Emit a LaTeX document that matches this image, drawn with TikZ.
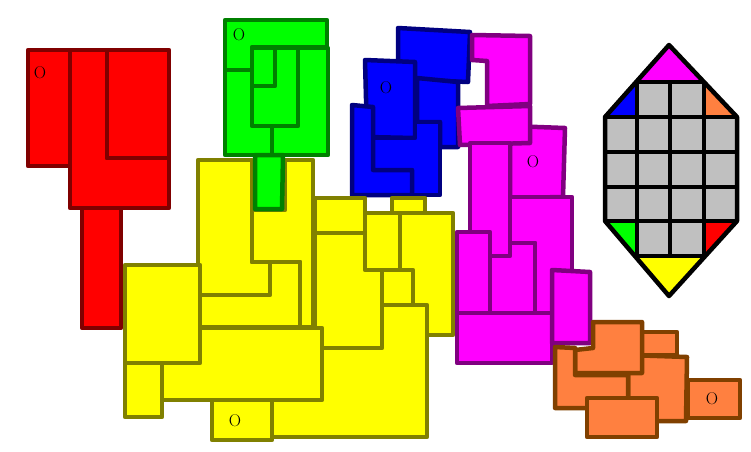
\documentclass[tikz,border=0pt]{standalone}
\usepackage{tikz}
\usetikzlibrary{positioning}
\definecolor{edgered}{RGB}{128,0,0}
\definecolor{edgegreen}{RGB}{0,128,0}
\definecolor{edgeblue}{RGB}{0,0,128}
\definecolor{edgemagenta}{RGB}{128,0,128}
\definecolor{edgeyellow}{RGB}{128,128,0}
\definecolor{edgeorange}{RGB}{128,64,0}
\definecolor{fillred}{RGB}{255,0,0}
\definecolor{fillgreen}{RGB}{0,255,0}
\definecolor{fillblue}{RGB}{0,0,255}
\definecolor{fillmagenta}{RGB}{255,0,255}
\definecolor{fillyellow}{RGB}{255,255,0}
\definecolor{fillorange}{RGB}{255,128,64}
\definecolor{fillgray}{RGB}{192,192,192}
\begin{document}
\begin{tikzpicture}[x=1pt, y=-1pt, line join=round]
    % Define styles
    \tikzstyle{redpiece} = [draw=edgered, fill=fillred, line width=4.5pt]
    \tikzstyle{greenpiece} = [draw=edgegreen, fill=fillgreen, line width=4.5pt]
    \tikzstyle{bluepiece} = [draw=edgeblue, fill=fillblue, line width=4.5pt]
    \tikzstyle{magentapiece} = [draw=edgemagenta, fill=fillmagenta, line width=4.5pt]
    \tikzstyle{yellowpiece} = [draw=edgeyellow, fill=fillyellow, line width=4.5pt]
    \tikzstyle{orangepiece} = [draw=edgeorange, fill=fillorange, line width=4.5pt]
    \tikzstyle{gridline} = [draw=black, line width=4.5pt]
    \tikzstyle{piecelabel} = [font=\fontsize{17}{17}\selectfont, inner sep=0pt]

    \useasboundingbox (0,0) rectangle (751,451);

    % Red pieces
    \draw[redpiece] (28,50) rectangle (70,166);
    \draw[redpiece] (70,50) -- (107,50) -- (107,158) -- (169,158) -- (169,208) -- (70,208) -- cycle;
    \draw[redpiece] (107,50) rectangle (169,158);
    \draw[redpiece] (82,208) rectangle (121,328);
    \node[piecelabel] (redo) at (40,73) {O};

    % Green pieces
    \draw[greenpiece] (225,20) -- (327,20) -- (327,47) -- (252,47) -- (252,70) -- (225,70) -- cycle;
    \draw[greenpiece] (225,70) -- (252,70) -- (252,125) -- (272,125) -- (272,155) -- (225,155) -- cycle;
    \draw[greenpiece] (252,48) rectangle (275,86);
    \draw[greenpiece] (275,48) -- (298,48) -- (298,126) -- (252,126) -- (252,86) -- (275,86) -- cycle;
    \draw[greenpiece] (298,48) -- (328,48) -- (328,155) -- (272,155) -- (272,126) -- (298,126) -- cycle;
    \node[piecelabel] (greeno) at (239,35) {O};

    % Blue pieces
    \draw[bluepiece] (398,28) -- (470,32) -- (468,82) -- (398,79) -- cycle;
    \draw[bluepiece] (417,78) -- (458,82) -- (458,147) -- (440,147) -- (440,122) -- (417,122) -- cycle;
    \draw[bluepiece] (365,60) -- (415,62) -- (415,138) -- (367,137) -- cycle;
    \draw[bluepiece] (415,122) -- (440,122) -- (440,195) -- (412,195) -- (412,170) -- (373,170) -- (373,138) -- (415,138) -- cycle;
    \draw[bluepiece] (352,105) -- (373,107) -- (373,170) -- (412,170) -- (412,195) -- (352,195) -- cycle;
    \node[piecelabel] (blueo) at (386,88) {O};

    % Magenta pieces
    \draw[magentapiece] (472,35) -- (530,36) -- (530,104) -- (487,106) -- (487,61) -- (472,60) -- cycle;
    \draw[magentapiece] (510,126) -- (565,128) -- (563,197) -- (510,198) -- cycle;
    \draw[magentapiece] (458,108) -- (530,106) -- (530,143) -- (460,145) -- cycle;
    \draw[magentapiece] (510,197) -- (572,197) -- (572,272) -- (552,272) -- (552,313) -- (535,313) -- (535,243) -- (510,243) -- cycle;
    \draw[magentapiece] (490,243) rectangle (535,313);
    \draw[magentapiece] (470,143) rectangle (510,256);
    \draw[magentapiece] (457,232) rectangle (490,313);
    \draw[magentapiece] (457,313) rectangle (552,363);
    \draw[magentapiece] (552,270) -- (590,272) -- (590,343) -- (552,343) -- cycle;
    \node[piecelabel] (magentao) at (533,162) {O};

    % Orange pieces
    \draw[orangepiece] (628,355) -- (687,357) -- (686,421) -- (628,421) -- cycle;
    \draw[orangepiece] (642,332) rectangle (677,355);
    \draw[orangepiece] (593,322) -- (642,322) -- (642,373) -- (575,373) -- (575,350) -- (593,348) -- cycle;
    \draw[orangepiece] (555,347) -- (575,348) -- (575,375) -- (628,375) -- (628,408) -- (555,408) -- cycle;
    \draw[orangepiece] (587,398) rectangle (657,437);
    \draw[orangepiece] (688,380) rectangle (740,418);
    \node[piecelabel] (orangeo) at (712,399) {O};

    % Yellow pieces
    \draw[yellowpiece] (198,160) -- (252,160) -- (252,262) -- (270,262) -- (270,295) -- (198,295) -- cycle;
    \draw[yellowpiece] (285,160) -- (313,160) -- (313,327) -- (300,327) -- (300,262) -- (252,262) -- (252,210) -- (285,210) -- cycle;
    \draw[yellowpiece] (270,262) -- (300,262) -- (300,327) -- (200,327) -- (200,295) -- (270,295) -- cycle;
    \draw[yellowpiece] (125,265) rectangle (200,363);
    \draw[yellowpiece] (125,363) rectangle (162,417);
    \draw[yellowpiece] (315,233) rectangle (382,348);
    \draw[yellowpiece] (200,328) -- (322,328) -- (322,400) -- (162,400) -- (162,363) -- (200,363) -- cycle;
    \draw[yellowpiece] (322,348) -- (382,348) -- (382,305) -- (427,305) -- (427,437) -- (272,437) -- (272,400) -- (322,400) -- cycle;
    \draw[yellowpiece] (212,400) rectangle (272,440);
    \draw[yellowpiece] (315,198) rectangle (365,233);
    \draw[yellowpiece] (392,198) rectangle (425,213);
    \draw[yellowpiece] (365,213) rectangle (400,270);
    \draw[yellowpiece] (382,270) rectangle (413,305);
    \draw[yellowpiece] (400,213) -- (453,213) -- (453,335) -- (427,335) -- (427,305) -- (413,305) -- (413,270) -- (400,270) -- cycle;
    \node[piecelabel] (yellowo) at (235,421) {O};

    % Green stem over the yellow
    \draw[greenpiece] (255,155) -- (283,155) -- (282,209) -- (255,209) -- cycle;

    % Board
    \fill[fillgray] (669,45) -- (737,117) -- (737,221) -- (669,296) -- (605,221) -- (605,117) -- cycle;
    \fill[fillmagenta] (669,45) -- (704,82) -- (637,82) -- cycle;
    \fill[fillblue] (637,82) -- (637,117) -- (605,117) -- cycle;
    \fill[fillorange] (704,82) -- (737,117) -- (704,117) -- cycle;
    \fill[fillgreen] (605,221) -- (637,221) -- (637,256) -- cycle;
    \fill[fillred] (704,221) -- (737,221) -- (704,256) -- cycle;
    \fill[fillyellow] (637,256) -- (704,256) -- (669,296) -- cycle;
    \draw[gridline] (669,45) -- (737,117) -- (737,221) -- (669,296) -- (605,221) -- (605,117) -- cycle;
    \draw[gridline] (637,82) -- (704,82);
    \foreach \y in {117,152,187,221}
        \draw[gridline] (605,\y) -- (737,\y);
    \draw[gridline] (637,256) -- (704,256);
    \foreach \x in {637,670,704}
        \draw[gridline] (\x,82) -- (\x,256);

\end{tikzpicture}
\end{document}
